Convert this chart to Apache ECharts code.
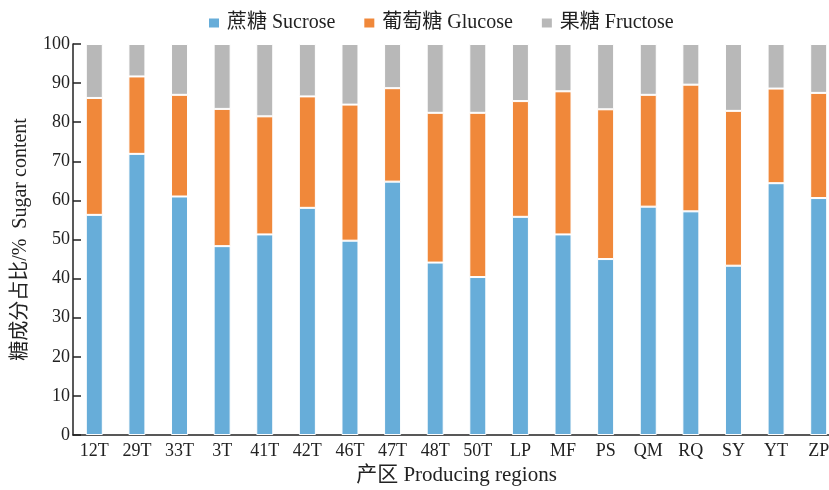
<!DOCTYPE html>
<html>
<head>
<meta charset="utf-8">
<script src="https://cdn.jsdelivr.net/npm/echarts@6/dist/echarts.min.js"></script>
<style>
  html, body { margin: 0; padding: 0; background: #fff; }
  #chart { width: 829px; height: 490px; }
</style>
</head>
<body>
<div id="chart"></div>
<script>
// Producing regions
const regions = ['12T','29T','33T','3T','41T','42T','46T','47T','48T','50T','LP','MF','PS','QM','RQ','SY','YT','ZP'];
// Share of each sugar in total sugar (%)
const sucrose  = [56.3, 71.9, 61.0, 48.3, 51.3, 58.1, 49.7, 64.8, 44.1, 40.4, 55.8, 51.3, 45.0, 58.4, 57.2, 43.3, 64.4, 60.6];
const glucose  = [29.9, 19.8, 26.0, 35.1, 30.2, 28.5, 34.8, 23.9, 38.3, 42.0, 29.6, 36.6, 38.3, 28.6, 32.4, 39.6, 24.2, 26.9];
const fructose = [13.8,  8.3, 13.0, 16.6, 18.5, 13.4, 15.5, 11.3, 17.6, 17.6, 14.6, 12.1, 16.7, 13.0, 10.4, 17.1, 11.4, 12.5];
const seriesNames = ['蔗糖 Sucrose', '葡萄糖 Glucose', '果糖 Fructose'];
const yTicks = [0, 10, 20, 30, 40, 50, 60, 70, 80, 90, 100];

const serif = "'Liberation Serif', 'Times New Roman', 'Noto Sans CJK SC', serif";
const colors = ['#67ADD9', '#F0883A', '#B8B8B8'];

const chart = echarts.init(document.getElementById('chart'), null, { renderer: 'canvas' });

const mkSeries = (name, data, color) => ({
  name, type: 'bar', stack: 'total', data,
  barWidth: 17,
  itemStyle: { color, borderColor: '#ffffff', borderWidth: 1 },
  emphasis: { disabled: true }
});

chart.setOption({
  animation: false,
  color: colors,
  textStyle: { fontFamily: serif, color: '#222' },
  legend: {
    top: 8, left: 202,
    icon: 'rect', itemWidth: 12, itemHeight: 11, itemGap: 27,
    textStyle: { fontFamily: serif, fontSize: 20, color: '#222', padding: [0, 0, 0, 2] },
    data: seriesNames
  },
  grid: { left: 73, top: 44, width: 767, height: 391, containLabel: false, outerBoundsMode: 'none' },
  xAxis: {
    type: 'category', data: regions,
    name: '产区 Producing regions', nameLocation: 'middle', nameGap: 30,
    nameTextStyle: { fontFamily: serif, fontSize: 21, color: '#222' },
    axisLine: { lineStyle: { color: '#222', width: 1.5 } },
    axisTick: { show: false },
    axisLabel: { fontFamily: serif, fontSize: 18, color: '#222', margin: 7, interval: 0 }
  },
  yAxis: {
    type: 'value', min: yTicks[0], max: yTicks[yTicks.length - 1], interval: 10,
    name: '糖成分占比/%  Sugar content', nameLocation: 'middle', nameGap: 42,
    nameTextStyle: { fontFamily: serif, fontSize: 20, color: '#222' },
    axisLine: { show: true, lineStyle: { color: '#222', width: 1.5 } },
    axisTick: { show: true, inside: true, length: 8, lineStyle: { color: '#222', width: 1.5 } },
    splitLine: { show: false },
    axisLabel: { fontFamily: serif, fontSize: 18, color: '#222', margin: 3 }
  },
  series: [
    mkSeries(seriesNames[0], sucrose, colors[0]),
    mkSeries(seriesNames[1], glucose, colors[1]),
    mkSeries(seriesNames[2], fructose, colors[2])
  ]
});
</script>
</body>
</html>
